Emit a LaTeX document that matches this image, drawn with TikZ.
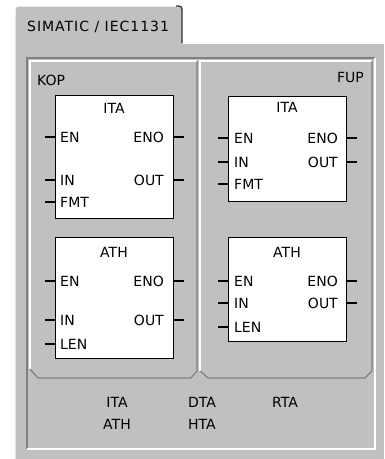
\documentclass[tikz,border=0pt]{standalone}
\usepackage{fontspec}
\setmainfont{DejaVu Sans}
\newfontfamily\tabfont[LetterSpace=7]{DejaVu Sans}
\usepackage{tikz}
\usetikzlibrary{positioning}
\definecolor{winface}{HTML}{C0C0C0}
\definecolor{winshade}{HTML}{808080}
\definecolor{inkx}{HTML}{000000}
\tikzset{
  blk/.style={draw=black,line width=1.3pt,fill=white,minimum width=118pt,inner sep=0pt,anchor=north west},
  lbl/.style={font=\fontsize{14}{16}\selectfont,text=inkx,inner sep=0pt,text height=10pt,text depth=0pt},
  pin/.style={line width=1.3pt,black},
  hi/.style={white,line width=1.2pt},
  lo/.style={winshade,line width=1.2pt}
}

\begin{document}
\begin{tikzpicture}[x=1pt,y=-1pt]
\useasboundingbox (0,0) rectangle (384,459);
\fill[white] (0,0) rectangle (384,459);
% tab and body
\fill[winface] (15,43) rectangle (384,459);
\fill[winface,rounded corners=3pt] (15,60) -- (15,6) -- (182,6) -- (182,60);
\draw[hi,rounded corners=3pt] (15,459) -- (15,6) -- (180,6);
\draw[line width=1.3pt,black!80,rounded corners=3pt] (176,6) -- (182,6) -- (182,43);
\draw[hi] (183,43) -- (384,43);
\node[lbl,anchor=west] (tab) at (27,26) {\tabfont SIMATIC / IEC1131};
% sunken frame
\draw[lo] (27,449) -- (27,58) -- (375,58);
\draw[hi] (375,58) -- (375,449) -- (27,449);
% KOP / FUP panels
\draw[hi] (30,369) -- (30,61) -- (197,61);
\draw[lo] (197,61) -- (197,371) -- (191,378) -- (38,378) -- (30,369);
\draw[hi] (200,371) -- (200,61) -- (372,61);
\draw[lo] (372,61) -- (372,371) -- (365,378) -- (208,378) -- (200,371);
\node[lbl,anchor=west] (kop) at (37,80) {KOP};
\node[lbl,anchor=east] (fup) at (364,77) {FUP};

% KOP boxes
\node[blk,minimum height=123pt] (kita) at (55,95) {};
\node[lbl] (kitat) at (114,108) {ITA};
\node[lbl,anchor=west] (kitaen) at (60,137) {EN};
\node[lbl,anchor=east] (kitaeno) at (164,137) {ENO};
\node[lbl,anchor=west] (kitain) at (60,180) {IN};
\node[lbl,anchor=east] (kitaout) at (164,180) {OUT};
\node[lbl,anchor=west] (kitafmt) at (60,202) {FMT};
\foreach \p in {kitaen,kitain,kitafmt} \draw[pin] (kita.west |- \p.west) -- ++(-10,0);
\foreach \p in {kitaeno,kitaout} \draw[pin] (kita.east |- \p.east) -- ++(10,0);

\node[blk,minimum height=121pt] (kath) at (55,237) {};
\node[lbl] (katht) at (114,252) {ATH};
\node[lbl,anchor=west] (kathen) at (60,281) {EN};
\node[lbl,anchor=east] (katheno) at (164,281) {ENO};
\node[lbl,anchor=west] (kathin) at (60,320) {IN};
\node[lbl,anchor=east] (kathout) at (164,320) {OUT};
\node[lbl,anchor=west] (kathlen) at (60,344) {LEN};
\foreach \p in {kathen,kathin,kathlen} \draw[pin] (kath.west |- \p.west) -- ++(-10,0);
\foreach \p in {katheno,kathout} \draw[pin] (kath.east |- \p.east) -- ++(10,0);

% FUP boxes
\node[blk,minimum height=105pt] (fita) at (228,96) {};
\node[lbl] (fitat) at (287,107) {ITA};
\node[lbl,anchor=west] (fitaen) at (234,138) {EN};
\node[lbl,anchor=east] (fitaeno) at (338,138) {ENO};
\node[lbl,anchor=west] (fitain) at (234,162) {IN};
\node[lbl,anchor=east] (fitaout) at (338,162) {OUT};
\node[lbl,anchor=west] (fitafmt) at (234,184) {FMT};
\foreach \p in {fitaen,fitain,fitafmt} \draw[pin] (fita.west |- \p.west) -- ++(-10,0);
\foreach \p in {fitaeno,fitaout} \draw[pin] (fita.east |- \p.east) -- ++(10,0);

\node[blk,minimum height=104pt] (fath) at (228,237) {};
\node[lbl] (fatht) at (287,252) {ATH};
\node[lbl,anchor=west] (fathen) at (234,281) {EN};
\node[lbl,anchor=east] (fatheno) at (338,281) {ENO};
\node[lbl,anchor=west] (fathin) at (234,303) {IN};
\node[lbl,anchor=east] (fathout) at (338,303) {OUT};
\node[lbl,anchor=west] (fathlen) at (234,327) {LEN};
\foreach \p in {fathen,fathin,fathlen} \draw[pin] (fath.west |- \p.west) -- ++(-10,0);
\foreach \p in {fatheno,fathout} \draw[pin] (fath.east |- \p.east) -- ++(10,0);

% instruction list
\node[lbl] (lita) at (117,402) {ITA};
\node[lbl] (lath) at (117,424) {ATH};
\node[lbl] (ldta) at (202,402) {DTA};
\node[lbl] (lhta) at (202,424) {HTA};
\node[lbl] (lrta) at (285,402) {RTA};
\end{tikzpicture}
\end{document}
